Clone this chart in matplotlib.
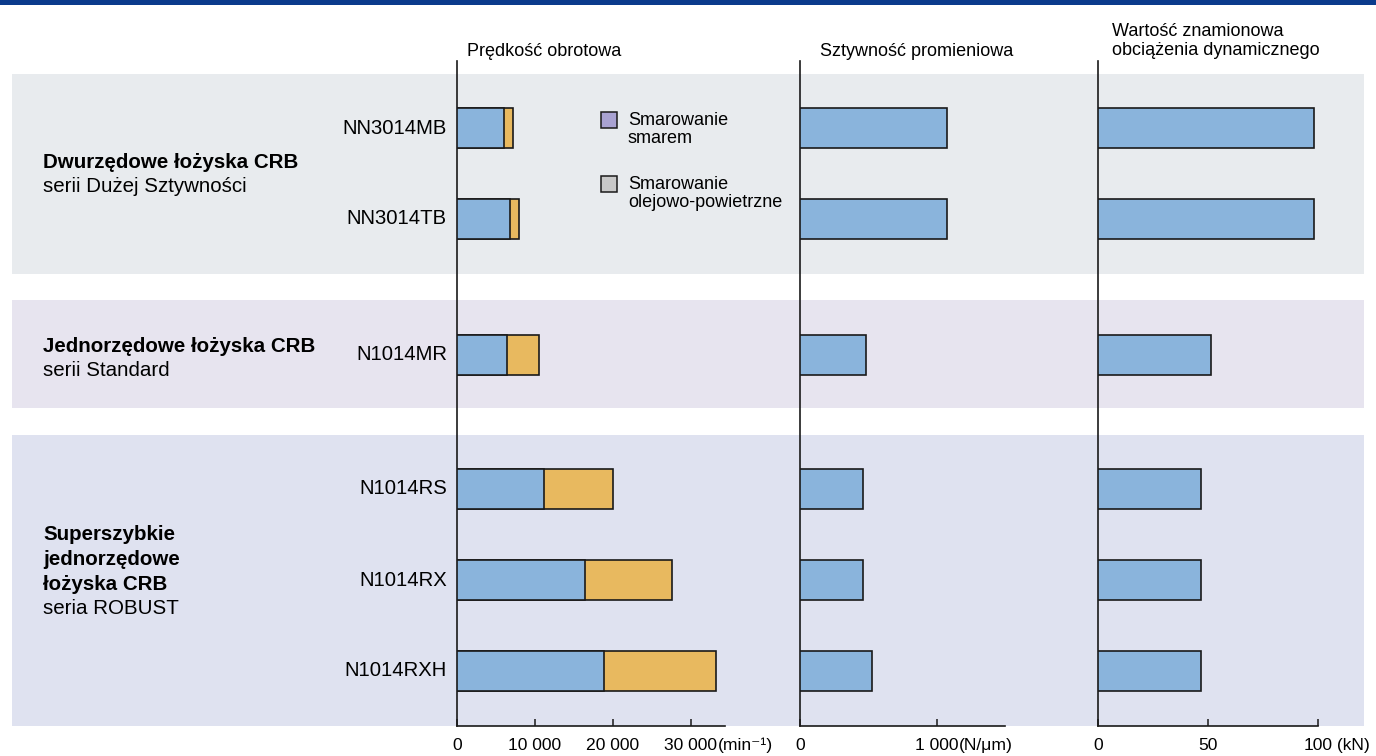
import matplotlib
matplotlib.use("Agg")
import matplotlib.pyplot as plt
from matplotlib.patches import Rectangle

plt.rcParams['font.family'] = ['Liberation Sans', 'DejaVu Sans']

# ---- data ----
bearings = ["NN3014MB", "NN3014TB", "N1014MR", "N1014RS", "N1014RX", "N1014RXH"]
speed_grease = [6000, 6800, 6400, 11200, 16400, 18800]          # min^-1
speed_oil_air = [7200, 7900, 10500, 20000, 27600, 33200]        # min^-1
radial_stiffness = [1075, 1075, 480, 460, 460, 525]             # N/um
dynamic_load = [98, 98, 51.5, 47, 47, 47]                        # kN

speed_ticks = [0, 10000, 20000, 30000]
speed_ticklabels = ["0", "10 000", "20 000", "30 000"]
stiff_ticks = [0, 1000]
stiff_ticklabels = ["0", "1 000"]
load_ticks = [0, 50, 100]
load_ticklabels = ["0", "50", "100"]

groups = [
    (["Dwurzędowe łożyska CRB"], ["serii Dużej Sztywności"]),
    (["Jednorzędowe łożyska CRB"], ["serii Standard"]),
    (["Superszybkie", "jednorzędowe", "łożyska CRB"], ["seria ROBUST"]),
]

# ---- layout (pixel frame) ----
W, H = 1376, 756
row_y = [128, 219, 355, 489, 580, 671]
bar_h = 40
bands = [(74, 274, "#e8ebee"), (300, 408, "#e7e4ef"), (435, 726, "#dfe2f0")]
group_text_y = [162, 346, 535]
axis_top, axis_bottom = 61, 726

BLUE = "#8ab4dc"
ORANGE = "#e8b95f"
EDGE = "#1a1a1a"
FS_HEAD = 13.0
FS_ROW = 14.6
FS_GROUP = 14.8
FS_TICK = 12.6

fig = plt.figure(figsize=(W / 100, H / 100), dpi=100)
bg = fig.add_axes([0, 0, 1, 1])
bg.set_xlim(0, W)
bg.set_ylim(H, 0)
bg.axis("off")
bg.add_patch(Rectangle((0, 0), W, 4.5, color="#0b3b8c", lw=0))
for y0, y1, c in bands:
    bg.add_patch(Rectangle((12, y0), W - 24, y1 - y0, color=c, lw=0))

# group titles
for (bold_lines, plain_lines), ty in zip(groups, group_text_y):
    y = ty
    for s in bold_lines:
        bg.text(43, y, s, fontsize=FS_GROUP, fontweight="bold", va="center", ha="left")
        y += 24.5
    for s in plain_lines:
        bg.text(43, y, s, fontsize=FS_GROUP, va="center", ha="left")
        y += 24.5

# row labels
for name, y in zip(bearings, row_y):
    bg.text(447, y, name, fontsize=FS_ROW, va="center", ha="right")

# headers
bg.text(467, 51, "Prędkość obrotowa", fontsize=FS_HEAD, va="center", ha="left")
bg.text(820, 51, "Sztywność promieniowa", fontsize=FS_HEAD, va="center", ha="left")
bg.text(1112, 32, "Wartość znamionowa", fontsize=FS_HEAD, va="center", ha="left")
bg.text(1112, 50.5, "obciążenia dynamicznego", fontsize=FS_HEAD, va="center", ha="left")

# legend
bg.add_patch(Rectangle((601, 112), 16, 16, facecolor="#a9a2d2", edgecolor=EDGE, lw=1.1))
bg.add_patch(Rectangle((601, 176), 16, 16, facecolor="#c8c8c8", edgecolor=EDGE, lw=1.1))
bg.text(628, 120.5, "Smarowanie", fontsize=FS_HEAD, va="center", ha="left")
bg.text(628, 138.5, "smarem", fontsize=FS_HEAD, va="center", ha="left")
bg.text(628, 184.5, "Smarowanie", fontsize=FS_HEAD, va="center", ha="left")
bg.text(628, 202.5, "olejowo-powietrzne", fontsize=FS_HEAD, va="center", ha="left")


def panel(x0_px, x1_px, xmax):
    ax = fig.add_axes([x0_px / W, 1 - axis_bottom / H,
                       (x1_px - x0_px) / W, (axis_bottom - axis_top) / H])
    ax.set_facecolor("none")
    ax.set_xlim(0, xmax)
    ax.set_ylim(axis_bottom, axis_top)
    for s in ("top", "right"):
        ax.spines[s].set_visible(False)
    for s in ("left", "bottom"):
        ax.spines[s].set_linewidth(1.2)
        ax.spines[s].set_color(EDGE)
    ax.set_yticks([])
    ax.tick_params(axis="x", direction="in", length=5, width=1.1, pad=8.5,
                   labelsize=FS_TICK, color=EDGE)
    return ax


ax1 = panel(457, 725, 34360)
ax2 = panel(800, 1005, 1496)
ax3 = panel(1098, 1318, 100)

ax1.barh(row_y, speed_oil_air, height=bar_h, color=ORANGE, edgecolor=EDGE, lw=1.2, zorder=2)
ax1.barh(row_y, speed_grease, height=bar_h, color=BLUE, edgecolor=EDGE, lw=1.2, zorder=3)
ax2.barh(row_y, radial_stiffness, height=bar_h, color=BLUE, edgecolor=EDGE, lw=1.2, zorder=3)
ax3.barh(row_y, dynamic_load, height=bar_h, color=BLUE, edgecolor=EDGE, lw=1.2, zorder=3)

ax1.set_xticks(speed_ticks, speed_ticklabels)
ax2.set_xticks(stiff_ticks, stiff_ticklabels)
ax3.set_xticks(load_ticks, load_ticklabels)

# units appended after the last tick label of each scale
fig.canvas.draw()
for ax, unit in ((ax1, "(min⁻¹)"), (ax2, "(N/μm)"), (ax3, " (kN)")):
    lab = ax.get_xticklabels()[-1]
    bb = lab.get_window_extent()
    fig.text(bb.x1 / W, (bb.y0 + bb.y1) / 2 / H, unit, fontsize=FS_TICK,
             ha="left", va="center")

fig.savefig("out.png", dpi=100)
